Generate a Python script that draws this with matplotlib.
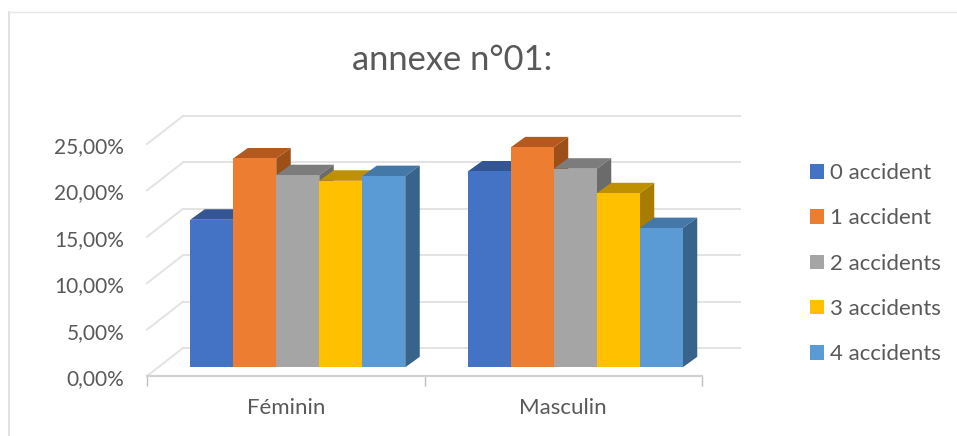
import matplotlib.pyplot as plt
from matplotlib.lines import Line2D
from matplotlib.patches import Patch
from matplotlib.transforms import Affine2D

categories = ["Féminin", "Masculin"]
series_names = ["0 accident", "1 accident", "2 accidents", "3 accidents", "4 accidents"]
feminin = [15.9, 22.5, 20.7, 20.1, 20.6]
masculin = [21.1, 23.7, 21.4, 18.75, 15.0]
y_ticks = [0, 5, 10, 15, 20, 25]

front_colors = ["#4472C4", "#ED7D31", "#A5A5A5", "#FFC000", "#5B9BD5"]
top_colors = ["#335593", "#B55A1E", "#7C7C7C", "#BF9000", "#4478A8"]
side_colors = ["#2C4A80", "#9C5018", "#6B6B6B", "#A67D00", "#38648B"]

TEXT = "#595959"
GRID = "#E3E3E3"
WIDTH, HEIGHT = 957, 436

plt.rcParams["font.family"] = ["Lato", "DejaVu Sans"]

fig = plt.figure(figsize=(WIDTH / 100, HEIGHT / 100), dpi=100)
ax = fig.add_axes([147 / WIDTH, (HEIGHT - 376) / HEIGHT, 555 / WIDTH, 232 / HEIGHT])
ax.set_xlim(0, 2)
ax.set_ylim(0, 25)
ax.patch.set_visible(False)

# size of one pixel in data units, used for the fake 3D depth
px_x = 2 / 555
px_y = 25 / 232


def shift(x, y, dx, dy):
    return x + dx * px_x, y + dy * px_y


# floor and back wall grid
for tick in y_ticks:
    x0, y0 = shift(0, tick, 36, 28)
    x1, y1 = shift(2, tick, 38, 28)
    ax.plot([0, x0], [tick, y0], color=GRID, lw=1.4, clip_on=False, zorder=1)
    ax.plot([x0, x1], [y0, y1], color=GRID, lw=1.4, clip_on=False, zorder=1)

# bars, left to right so each front hides the previous side face
bar_w = 43 * px_x
front_dx, front_dy = 12, 8.7
depth_dx, depth_dy = 14.5, 10.5
z = 2
for center, values in zip([0.5, 1.5], [feminin, masculin]):
    for i, value in enumerate(values):
        left = center + (i - 2.5) * bar_w
        xl, base = shift(left, 0, front_dx, front_dy)
        xr = xl + bar_w
        top = base + value
        bx, by = depth_dx * px_x, depth_dy * px_y
        ax.fill([xl, xr, xr + bx, xl + bx], [top, top, top + by, top + by],
                color=top_colors[i], lw=0, clip_on=False, zorder=z)
        ax.fill([xr, xr + bx, xr + bx, xr], [base, base + by, top + by, top],
                color=side_colors[i], lw=0, clip_on=False, zorder=z)
        ax.bar(xl, value, width=bar_w, bottom=base, align="edge",
               color=front_colors[i], lw=0, clip_on=False, zorder=z + 0.5)
        z += 1

for side in ["top", "left", "right"]:
    ax.spines[side].set_visible(False)
ax.spines["bottom"].set_color("#D2D2D2")
ax.spines["bottom"].set_linewidth(1.6)

ax.set_yticks(y_ticks)
ax.set_yticklabels([f"{t:.2f}%".replace(".", ",") for t in y_ticks], fontsize=15, color=TEXT)
ax.tick_params(axis="y", length=0, pad=16.5)
for label in ax.get_yticklabels():
    label.set_transform(label.get_transform() + Affine2D().translate(0, -1))
ax.set_xticks([0, 1, 2])
ax.set_xticklabels([])
ax.tick_params(axis="x", which="major", length=7, width=1, color="#BFBFBF")
ax.set_xticks([0.5, 1.5], minor=True)
ax.set_xticklabels(categories, minor=True, fontsize=16, color=TEXT)
ax.tick_params(axis="x", which="minor", length=0, pad=16)

handles = [Patch(color=c, lw=0) for c in front_colors]
fig.legend(handles, series_names, loc="upper left", bbox_to_anchor=(803.3 / WIDTH, (HEIGHT - 156.5) / HEIGHT),
           frameon=False, fontsize=16, labelcolor=TEXT, handlelength=0.63, handleheight=0.63,
           handletextpad=0.27, labelspacing=1.135, borderpad=0.3, borderaxespad=0)

fig.text(452 / WIDTH, (HEIGHT - 59.5) / HEIGHT, "annexe n°01:", ha="center", va="center",
         fontsize=24.8, color=TEXT)

# chart frame, cut off on the right and at the bottom
fx, fy = 8.5 / WIDTH, (HEIGHT - 12.5) / HEIGHT
fig.add_artist(Line2D([fx, fx], [0, fy], color="#DEDEDE", lw=1.3))
fig.add_artist(Line2D([fx, 1], [fy, fy], color="#E6E6E6", lw=1))

fig.savefig("out.png", dpi=100)
plt.close(fig)
